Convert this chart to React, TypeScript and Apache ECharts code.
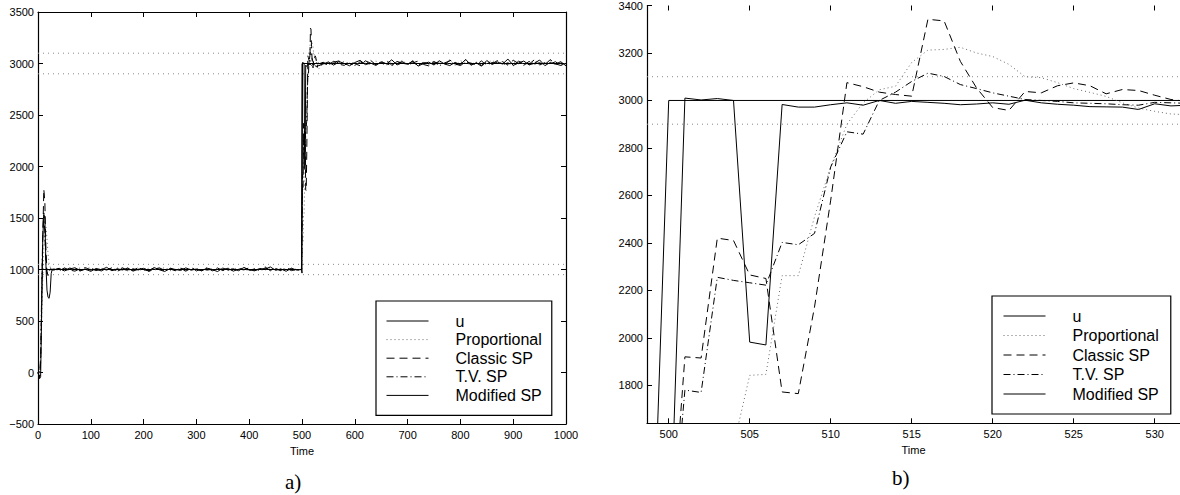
import React, { useEffect, useRef } from "react";
import * as echarts from "echarts";

const seriesNames = ["u", "Proportional", "Classic SP", "T.V. SP", "Modified SP"];

// reference input u (step)
const uSteps = [[0, 1000], [499, 1000], [500, 3000], [1000, 3000]];
// tolerance bands
const leftBands = [950, 1050, 2900, 3100];
const rightBands = [2900, 3100];

// early transients [time, value]
const propEarly = [[0, 0], [3, -20], [5, 100], [7, 500], [9, 900], [11, 1200], [13, 1400], [15, 1420], [17, 1300], [19, 1150], [21, 1060], [24, 1010], [27, 1000]];
const classicEarly = [[0, 0], [3, -50], [5, 100], [7, 700], [9, 1300], [11, 1780], [13, 1650], [15, 1200], [17, 980], [19, 940], [21, 975], [24, 1010], [27, 995]];
const tvEarly = [[0, 0], [3, -45], [5, 150], [7, 800], [9, 1350], [11, 1550], [13, 1350], [15, 1050], [17, 960], [20, 990], [24, 1005], [27, 998]];
const modEarly = [[0, 0], [3, -60], [5, -40], [7, 600], [9, 1300], [11, 1530], [13, 1500], [15, 1050], [17, 800], [19, 730], [21, 720], [23, 780], [25, 960], [27, 1005]];

// steady state around 1000, time 30..490 every 10
const lowStart = 30;
const propLow = [1001, 992, 1012, 989, 1006, 1015, 993, 1003, 987, 1011, 1004, 994, 1016, 998, 986, 1009, 1001, 990, 1013, 995, 1004, 1018, 988, 1000, 1010, 992, 1003, 1014, 990, 1006, 995, 1012, 1001, 989, 1016, 996, 1005, 985, 1010, 1000, 992, 1019, 996, 1007, 989, 1013, 1000];
const classicLow = [1006, 988, 1015, 995, 984, 1009, 1018, 992, 1002, 986, 1012, 1000, 990, 1017, 987, 1007, 995, 1014, 982, 1003, 1016, 991, 1005, 988, 1013, 998, 1022, 986, 1009, 994, 1003, 1015, 989, 1010, 984, 1005, 996, 1017, 991, 1002, 1026, 988, 1008, 994, 1014, 989, 1003];
const tvLow = [998, 1009, 990, 1014, 1002, 986, 1007, 1016, 989, 1004, 994, 1017, 983, 1005, 1011, 991, 1018, 998, 986, 1009, 1003, 990, 1016, 994, 1005, 984, 1012, 1000, 991, 1019, 987, 1007, 996, 1013, 986, 1002, 1017, 993, 1005, 990, 1014, 996, 1007, 988, 1011, 1002, 990];
const modLow = [994, 1012, 986, 1005, 1017, 990, 1002, 982, 1010, 998, 1021, 988, 1007, 995, 1015, 984, 1003, 1011, 989, 1019, 997, 981, 1008, 1001, 990, 1016, 993, 1005, 986, 1013, 1000, 980, 1014, 995, 1007, 988, 1020, 998, 987, 1010, 1003, 1025, 992, 1005, 983, 1012, 994];

// detail around the step, time 499..532 every 1
const detailStart = 499;
const propDetail = [1000, 995, 1250, 1255, 1540, 1545, 1842, 1846, 2262, 2262, 2510, 2720, 2900, 2990, 3045, 3060, 3160, 3212, 3215, 3224, 3200, 3185, 3152, 3100, 3096, 3075, 3050, 3034, 3017, 2990, 2968, 2954, 2943, 2940];
const classicDetail = [1000, 1000, 1920, 1915, 2420, 2410, 2265, 2250, 1772, 1765, 2130, 2580, 3075, 3058, 3035, 3025, 3018, 3342, 3335, 3165, 3053, 2970, 2958, 3038, 3032, 3062, 3074, 3062, 3028, 3046, 3042, 3022, 3004, 2996];
const tvDetail = [1000, 1000, 1780, 1770, 2255, 2242, 2232, 2222, 2402, 2392, 2440, 2720, 2868, 2858, 3000, 3035, 3080, 3115, 3101, 3067, 3050, 3032, 3018, 3004, 3000, 2996, 2990, 2988, 2986, 2982, 2980, 2992, 2990, 2988];
const modDetail = [1000, 965, 3010, 3002, 3008, 3000, 1982, 1970, 2983, 2972, 2972, 2982, 2990, 2980, 3000, 2988, 2996, 2992, 2988, 2982, 2985, 2990, 2984, 3001, 2990, 2984, 2980, 2974, 2973, 2972, 2962, 2986, 2977, 2980];

// steady state around 3000, time 540..1000 every 10
const highStart = 540;
const propHigh = [2998, 3012, 2988, 3006, 3020, 2993, 2981, 3015, 3003, 2990, 3024, 2998, 2984, 3012, 3001, 3030, 2991, 3008, 2977, 3016, 3000, 2989, 3022, 2995, 3009, 2984, 3027, 3004, 2991, 3013, 2979, 3002, 3032, 2994, 3010, 2986, 3018, 2997, 3006, 2982, 3023, 2990, 3003, 3028, 2987, 3008, 2995];
const classicHigh = [3012, 2989, 3021, 2993, 2982, 3016, 2999, 2978, 3026, 3003, 2990, 3009, 3029, 2984, 3000, 3019, 2986, 3006, 3024, 2991, 2977, 3015, 3002, 2987, 3034, 2996, 2980, 3013, 3004, 2988, 3025, 2980, 3010, 2999, 3018, 2984, 3032, 3000, 2982, 3020, 2994, 3008, 2986, 3038, 2997, 2981, 3004];
const tvHigh = [3003, 2985, 3013, 3025, 2991, 3002, 2980, 3017, 2996, 3030, 2987, 3009, 2999, 2979, 3020, 3004, 2990, 3027, 2983, 3010, 2994, 3019, 2976, 3006, 3024, 2986, 3000, 3033, 2991, 3012, 2982, 3016, 2997, 3028, 2988, 3007, 2978, 3022, 3002, 2993, 3036, 2985, 3009, 2996, 3017, 2983, 3000];
const modHigh = [2995, 3015, 2984, 3019, 3001, 2978, 3009, 3031, 2989, 3004, 2981, 3017, 2996, 3036, 2986, 3007, 2992, 3022, 2975, 3000, 3013, 2985, 3027, 2995, 2980, 3011, 2988, 3040, 2983, 3006, 2974, 3029, 2990, 3015, 2995, 3043, 2982, 3004, 3024, 2987, 3001, 3034, 2979, 3010, 2993, 3018, 2977];

const leftYTicks = { min: -500, max: 3500, interval: 500 };
const rightXTicks = [500, 505, 510, 515, 520, 525, 530];
const rightYTicks = [1800, 2000, 2200, 2400, 2600, 2800, 3000, 3200, 3400];
const rightRange = { xMin: 498.66, xMax: 531.56, yMin: 1640, yMax: 3400 };

const font = "'Liberation Sans', Arial, Helvetica, sans-serif";

function seq(start: number, step: number, vals: number[]) {
  return vals.map((v, i) => [start + step * i, v]);
}
function build(early: number[][], low: number[], detail: number[], high: number[]) {
  return [...early, ...seq(lowStart, 10, low), ...seq(detailStart, 1, detail), ...seq(highStart, 10, high)];
}

const styles: Record<string, any> = {
  u: { color: "#000", width: 1, type: "solid" },
  Proportional: { color: "#6a6a6a", width: 1, type: [1, 3] },
  "Classic SP": { color: "#000", width: 1, type: [8, 5] },
  "T.V. SP": { color: "#000", width: 1, type: [7, 3, 1, 3] },
  "Modified SP": { color: "#000", width: 1, type: "solid" },
};

export default function App() {
  const ref = useRef<HTMLDivElement>(null);
  useEffect(() => {
    if (!ref.current) return;
    const chart = echarts.init(ref.current, undefined, { renderer: "svg" });
    const axisLine = { show: true, onZero: false, lineStyle: { color: "#000", width: 1.2 } };
    const tick = { show: true, inside: true, length: 5, lineStyle: { color: "#000", width: 1 } };
    const plain = (v: number) => String(v).replace("-", "\u2212");
    const label = { color: "#000", fontSize: 11, fontFamily: font, formatter: plain };
    const nameStyle = { color: "#000", fontSize: 11, fontFamily: font };

    const fullData: Record<string, number[][]> = {
      u: uSteps,
      Proportional: build(propEarly, propLow, propDetail, propHigh),
      "Classic SP": build(classicEarly, classicLow, classicDetail, classicHigh),
      "T.V. SP": build(tvEarly, tvLow, tvDetail, tvHigh),
      "Modified SP": build(modEarly, modLow, modDetail, modHigh),
    };

    const series: any[] = [];
    leftBands.forEach((b) =>
      series.push({
        type: "line", name: "band", xAxisIndex: 0, yAxisIndex: 0, silent: true, symbol: "none",
        data: [[0, b], [1000, b]], lineStyle: { color: "#888", width: 1, type: [1, 4] }, z: 1,
      })
    );
    rightBands.forEach((b) =>
      series.push({
        type: "line", name: "band", xAxisIndex: 2, yAxisIndex: 2, silent: true, symbol: "none",
        data: [[rightRange.xMin, b], [rightRange.xMax, b]], lineStyle: { color: "#888", width: 1, type: [1, 4] }, z: 1,
      })
    );
    [0, 1].forEach((panel) => {
      seriesNames.forEach((n) => {
        series.push({
          type: "line", name: n,
          xAxisIndex: panel === 0 ? 0 : 2, yAxisIndex: panel === 0 ? 0 : 2,
          symbol: "none", clip: true, silent: true,
          data: fullData[n],
          lineStyle: styles[n], itemStyle: { color: styles[n].color }, z: 2,
        });
      });
    });

    const legendBase = {
      data: seriesNames, orient: "vertical", itemWidth: 42, itemHeight: 12,
      borderColor: "#000", borderWidth: 1.2, selectedMode: false, backgroundColor: "#fff",
      itemStyle: { opacity: 0 },
      lineStyle: { width: 1 },
      textStyle: { fontSize: 16, fontFamily: font, color: "#000", lineHeight: 16, padding: [0, 0, 0, 22] },
    };

    chart.setOption({
      animation: false,
      grid: [
        { left: 38, top: 12, width: 528, height: 412 },
        { left: 647, top: 0, width: 533, height: 423.3 },
      ],
      xAxis: [
        {
          gridIndex: 0, type: "value", min: 0, max: 1000, interval: 100, position: "bottom",
          axisLine, axisTick: tick, axisLabel: { ...label, margin: 5 }, splitLine: { show: false },
          name: "Time", nameLocation: "middle", nameGap: 21, nameTextStyle: nameStyle,
        },
        {
          gridIndex: 0, type: "value", min: 0, max: 1000, interval: 100, position: "top",
          axisLine, axisTick: tick, axisLabel: { show: false }, splitLine: { show: false },
        },
        {
          gridIndex: 1, type: "value", min: rightRange.xMin, max: rightRange.xMax, position: "bottom",
          axisLine, axisTick: { ...tick, customValues: rightXTicks },
          axisLabel: { ...label, margin: 5, customValues: rightXTicks }, splitLine: { show: false },
          name: "Time", nameLocation: "middle", nameGap: 21, nameTextStyle: nameStyle,
        },
        {
          gridIndex: 1, type: "value", min: rightRange.xMin, max: rightRange.xMax, position: "top",
          axisLine: { show: false }, axisTick: { ...tick, customValues: rightXTicks },
          axisLabel: { show: false }, splitLine: { show: false },
        },
      ],
      yAxis: [
        {
          gridIndex: 0, type: "value", ...leftYTicks, position: "left",
          axisLine, axisTick: tick, axisLabel: { ...label, margin: 4 }, splitLine: { show: false },
        },
        {
          gridIndex: 0, type: "value", ...leftYTicks, position: "right",
          axisLine, axisTick: tick, axisLabel: { show: false }, splitLine: { show: false },
        },
        {
          gridIndex: 1, type: "value", min: rightRange.yMin, max: rightRange.yMax, position: "left",
          axisLine, axisTick: { ...tick, customValues: rightYTicks },
          axisLabel: { ...label, margin: 4, customValues: rightYTicks }, splitLine: { show: false },
        },
      ],
      legend: [
        { ...legendBase, left: 376, top: 301, padding: [12, 10, 12, 10], itemGap: 2.6 },
        { ...legendBase, left: 992, top: 296, padding: [12, 12, 12, 11], itemGap: 3.5 },
      ],
      graphic: [
        { type: "text", left: 285, top: 471, style: { text: "a)", fontSize: 21, fontFamily: "'Liberation Serif', 'DejaVu Serif', serif", fill: "#000" } },
        { type: "text", left: 892, top: 467, style: { text: "b)", fontSize: 21, fontFamily: "'Liberation Serif', 'DejaVu Serif', serif", fill: "#000" } },
      ],
      series,
    });
    return () => chart.dispose();
  }, []);

  return (
    <div style={{ position: "fixed", left: 0, top: 0, width: 1180, height: 495, background: "#fff" }}>
      <div ref={ref} style={{ width: 1180, height: 495 }} />
    </div>
  );
}
